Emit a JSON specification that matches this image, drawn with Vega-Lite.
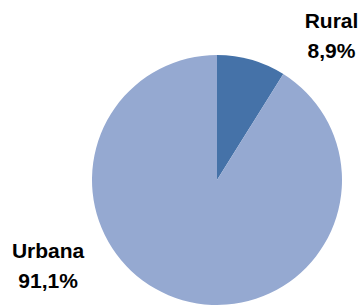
{
  "$schema": "https://vega.github.io/schema/vega-lite/v6.json",
  "width": 250,
  "height": 250,
  "autosize": {"type": "none"},
  "padding": {"left": 92, "top": 55, "right": 19, "bottom": 2},
  "background": "white",
  "config": {"view": {"stroke": null}},
  "data": {
    "values": [
      {"zona": "Rural", "pct": 8.9, "ord": 1, "label": "Rural\n8,9%"},
      {"zona": "Urbana", "pct": 91.1, "ord": 2, "label": "Urbana\n91,1%"}
    ]
  },
  "encoding": {
    "theta": {"field": "pct", "type": "quantitative", "stack": true},
    "order": {"field": "ord", "type": "quantitative"}
  },
  "layer": [
    {
      "mark": {"type": "arc"},
      "encoding": {
        "color": {
          "field": "zona",
          "type": "nominal",
          "scale": {"domain": ["Rural", "Urbana"], "range": ["#4572A8", "#95A9D1"]},
          "legend": null
        }
      }
    },
    {
      "mark": {"type": "text", "radius": 125, "dx": 80, "dy": -32, "align": "center", "baseline": "alphabetic", "lineBreak": "\n", "lineHeight": 30, "font": "Liberation Sans", "fontWeight": "bold", "fontSize": 21, "color": "black"},
      "encoding": {
        "text": {"condition": {"test": "datum.zona == 'Rural'", "field": "label"}, "value": ""}
      }
    },
    {
      "mark": {"type": "text", "radius": 130, "dx": -133, "dy": -47, "align": "center", "baseline": "alphabetic", "lineBreak": "\n", "lineHeight": 30, "font": "Liberation Sans", "fontWeight": "bold", "fontSize": 21, "color": "black"},
      "encoding": {
        "text": {"condition": {"test": "datum.zona == 'Urbana'", "field": "label"}, "value": ""}
      }
    }
  ]
}
